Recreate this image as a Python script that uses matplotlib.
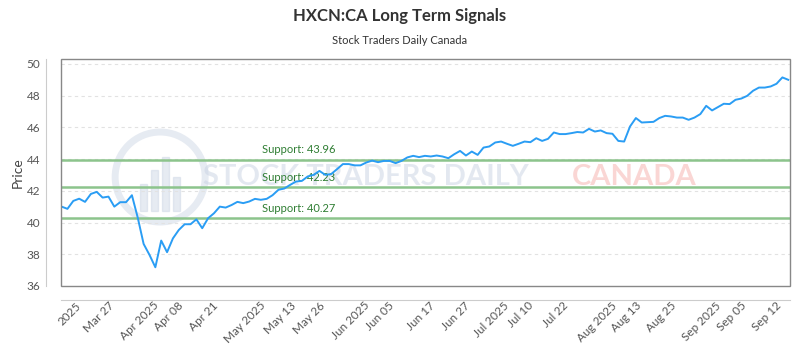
import matplotlib
matplotlib.use('Agg')
import matplotlib.pyplot as plt
from matplotlib.patches import Rectangle, Ellipse

plt.rcParams['font.family'] = ['Lato', 'DejaVu Sans']

# price, one value per trading day
price = [41.0, 40.86, 41.36, 41.5, 41.3, 41.8, 41.93, 41.57, 41.63, 41.0,
         41.28, 41.28, 41.72, 40.3, 38.65, 37.96, 37.18, 38.86, 38.13, 39.0,
         39.53, 39.89, 39.89, 40.2, 39.64, 40.27, 40.58, 41.0, 40.94, 41.1,
         41.3, 41.22,
         41.32, 41.49, 41.43, 41.49, 41.72, 42.06, 42.14, 42.37, 42.58, 42.62,
         42.9, 43.0, 43.25, 43.0, 43.05, 43.36, 43.68, 43.68, 43.6, 43.6,
         43.78, 43.9, 43.8, 43.88, 43.88, 43.74, 43.88, 44.1, 44.2, 44.12,
         44.2,
         44.16, 44.22, 44.16, 44.05, 44.3, 44.51, 44.22, 44.47, 44.26, 44.72,
         44.79, 45.04, 45.1, 44.96, 44.83, 44.96, 45.1, 45.06, 45.31, 45.14,
         45.27, 45.67, 45.57, 45.57, 45.63, 45.7, 45.67, 45.9, 45.73, 45.8,
         45.63,
         45.59, 45.14, 45.1, 46.05, 46.58, 46.3, 46.32, 46.34, 46.58, 46.72,
         46.68, 46.61, 46.61, 46.47, 46.61, 46.83, 47.35, 47.06, 47.27, 47.48,
         47.46, 47.73, 47.81, 47.98, 48.3, 48.5, 48.5, 48.57, 48.74, 49.14,
         48.99]

supports = [43.96, 42.23, 40.27]

tick_pos = [3, 8, 15, 20, 26, 33, 39, 44, 51, 56, 63, 69, 75, 80, 86, 93,
            98, 104, 111, 116, 122]
tick_labels = ['2025', 'Mar 27', 'Apr 2025', 'Apr 08', 'Apr 21', 'May 2025',
               'May 13', 'May 26', 'Jun 2025', 'Jun 05', 'Jun 17', 'Jun 27',
               'Jul 2025', 'Jul 10', 'Jul 22', 'Aug 2025', 'Aug 13', 'Aug 25',
               'Sep 2025', 'Sep 05', 'Sep 12']

fig = plt.figure(figsize=(8, 3.5), dpi=100)
ax = fig.add_axes([61/800, 1-286/350, (790-61)/800, (286-59)/350])

x = list(range(len(price)))

# watermark
wm = '#c9d3e3'
ax.text(0.418, 0.48, 'STOCK TRADERS DAILY', transform=ax.transAxes,
        fontsize=21, color=wm, alpha=0.5, ha='center', va='center',
        fontweight='bold', zorder=0)
ax.text(0.786, 0.48, 'CANADA', transform=ax.transAxes,
        fontsize=21, color='#f4a6a0', alpha=0.45, ha='center', va='center',
        fontweight='bold', zorder=0)
ax.add_patch(Ellipse((0.136, 0.48), 90/729, 90/227, transform=ax.transAxes,
                     fill=False, edgecolor=wm, lw=5, alpha=0.45, zorder=0))
for k, h in enumerate([0.12, 0.18, 0.24, 0.15]):
    ax.add_patch(Rectangle((0.108+k*0.015, 0.33), 0.01, h, transform=ax.transAxes,
                           color=wm, alpha=0.45, zorder=0))

for v in [38, 40, 42, 44, 46, 48, 50]:
    ax.axhline(v, color='#e2e2e2', lw=0.8, ls=(0, (3, 3)), zorder=1)

for s in supports:
    ax.axhline(s, color='#8cc48c', lw=1.8, zorder=2)
    ax.annotate('Support: %.2f' % s, (34.2, s), xytext=(0, 3),
                textcoords='offset points', color='#2e7d32', fontsize=8,
                va='bottom', ha='left', zorder=3)

ax.plot(x, price, color='#2a9df4', lw=1.4, zorder=4)

ax.set_xlim(-0.1, 124.3)
ax.set_ylim(36, 50.3)
ax.set_yticks([36, 38, 40, 42, 44, 46, 48, 50])
ax.tick_params(axis='both', length=0, labelsize=8.5, colors='#555555')
ax.tick_params(axis='y', pad=4)
ax.tick_params(axis='x', pad=0, labelrotation=45)
# labels hang from their right end, so nudge them left a little
ax.set_xticks([p - 1.7 for p in tick_pos])
ax.set_xticklabels(tick_labels, rotation=45, ha='right', rotation_mode='anchor')
ax.set_ylabel('Price', fontsize=10, color='#444444', labelpad=2)

for side in ['top', 'right']:
    ax.spines[side].set_visible(False)
ax.spines['left'].set_position(('outward', 11))
ax.spines['bottom'].set_position(('outward', 10))
ax.spines['left'].set_color('#cccccc')
ax.spines['bottom'].set_color('#cccccc')
ax.add_patch(Rectangle((0, 0), 1, 1, transform=ax.transAxes, fill=False,
                       edgecolor='#888888', lw=1, zorder=5, clip_on=False))

fig.text(0.5, 1-16/350, 'HXCN:CA Long Term Signals', ha='center', va='center',
         fontsize=12, fontweight='bold', color='#333333')
fig.text(0.5, 1-40/350, 'Stock Traders Daily Canada', ha='center', va='center',
         fontsize=8, color='#333333')

fig.savefig('out.png', dpi=100)
